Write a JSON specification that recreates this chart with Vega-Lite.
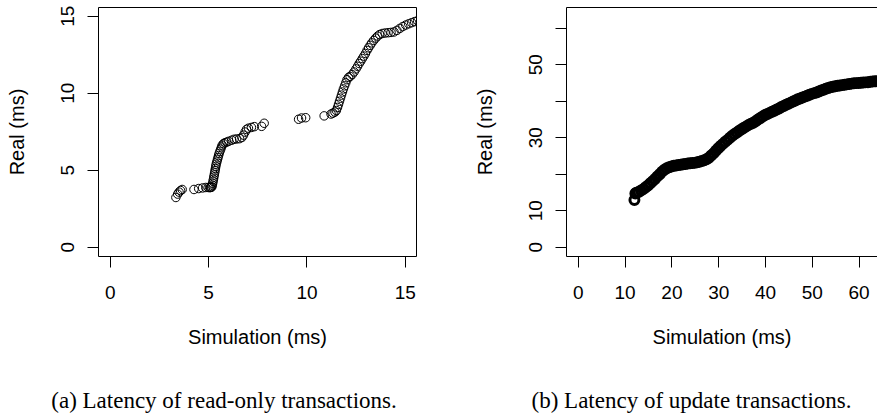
{
  "$schema": "https://vega.github.io/schema/vega-lite/v6.json",
  "padding": {"left": 6, "top": 4, "right": 0, "bottom": 0},
  "autosize": {"type": "pad"},
  "background": "white",
  "spacing": 150,
  "bounds": "flush",
  "config": {
    "font": "Liberation Sans",
    "view": {"stroke": "black", "strokeWidth": 1},
    "axis": {
      "grid": false,
      "domain": false,
      "tickColor": "black",
      "tickSize": 11,
      "tickWidth": 1,
      "labelFont": "Liberation Sans",
      "labelFontSize": 19,
      "labelColor": "black",
      "labelFlush": false,
      "labelOverlap": false,
      "titleFont": "Liberation Sans",
      "titleFontSize": 20,
      "titleFontWeight": "normal",
      "titleColor": "black"
    },
    "title": {
      "font": "Liberation Serif",
      "fontSize": 23,
      "fontWeight": "normal",
      "color": "black"
    }
  },
  "datasets": {
    "ro": [
      {"sim": 3.36, "real": 3.20}, {"sim": 3.45, "real": 3.42}, {"sim": 3.52, "real": 3.55}, {"sim": 3.60, "real": 3.65},
      {"sim": 3.68, "real": 3.72}, {"sim": 4.28, "real": 3.72}, {"sim": 4.52, "real": 3.78}, {"sim": 4.72, "real": 3.82},
      {"sim": 4.88, "real": 3.85}, {"sim": 5.00, "real": 3.85}, {"sim": 5.08, "real": 3.84}, {"sim": 5.12, "real": 3.85},
      {"sim": 5.16, "real": 3.86}, {"sim": 5.19, "real": 3.90}, {"sim": 5.21, "real": 4.00}, {"sim": 5.23, "real": 4.12},
      {"sim": 5.25, "real": 4.25}, {"sim": 5.27, "real": 4.38}, {"sim": 5.29, "real": 4.52}, {"sim": 5.31, "real": 4.66},
      {"sim": 5.33, "real": 4.80}, {"sim": 5.35, "real": 4.94}, {"sim": 5.37, "real": 5.08}, {"sim": 5.39, "real": 5.22},
      {"sim": 5.41, "real": 5.36}, {"sim": 5.44, "real": 5.50}, {"sim": 5.47, "real": 5.64}, {"sim": 5.50, "real": 5.78},
      {"sim": 5.53, "real": 5.92}, {"sim": 5.56, "real": 6.06}, {"sim": 5.60, "real": 6.20}, {"sim": 5.64, "real": 6.34},
      {"sim": 5.68, "real": 6.48}, {"sim": 5.72, "real": 6.60}, {"sim": 5.78, "real": 6.70}, {"sim": 5.86, "real": 6.76},
      {"sim": 5.95, "real": 6.80}, {"sim": 6.05, "real": 6.85}, {"sim": 6.20, "real": 6.92}, {"sim": 6.32, "real": 6.98},
      {"sim": 6.45, "real": 7.00}, {"sim": 6.60, "real": 7.02}, {"sim": 6.72, "real": 7.10}, {"sim": 6.80, "real": 7.25},
      {"sim": 6.88, "real": 7.45}, {"sim": 6.95, "real": 7.62}, {"sim": 7.05, "real": 7.70}, {"sim": 7.20, "real": 7.75},
      {"sim": 7.35, "real": 7.80}, {"sim": 7.72, "real": 7.82}, {"sim": 7.85, "real": 8.02}, {"sim": 9.60, "real": 8.28},
      {"sim": 9.75, "real": 8.36}, {"sim": 9.96, "real": 8.38}, {"sim": 10.90, "real": 8.50}, {"sim": 11.25, "real": 8.62},
      {"sim": 11.35, "real": 8.68}, {"sim": 11.45, "real": 8.75}, {"sim": 11.52, "real": 8.85}, {"sim": 11.58, "real": 9.05},
      {"sim": 11.63, "real": 9.25}, {"sim": 11.68, "real": 9.45}, {"sim": 11.73, "real": 9.65}, {"sim": 11.78, "real": 9.85},
      {"sim": 11.83, "real": 10.05}, {"sim": 11.88, "real": 10.25}, {"sim": 11.94, "real": 10.45}, {"sim": 12.00, "real": 10.65},
      {"sim": 12.06, "real": 10.85}, {"sim": 12.14, "real": 11.00}, {"sim": 12.22, "real": 11.06}, {"sim": 12.32, "real": 11.18},
      {"sim": 12.42, "real": 11.35}, {"sim": 12.52, "real": 11.55}, {"sim": 12.60, "real": 11.72}, {"sim": 12.68, "real": 11.90},
      {"sim": 12.76, "real": 12.05}, {"sim": 12.84, "real": 12.22}, {"sim": 12.92, "real": 12.38}, {"sim": 13.00, "real": 12.55},
      {"sim": 13.08, "real": 12.75}, {"sim": 13.16, "real": 12.92}, {"sim": 13.24, "real": 13.08}, {"sim": 13.32, "real": 13.24},
      {"sim": 13.42, "real": 13.40}, {"sim": 13.52, "real": 13.55}, {"sim": 13.62, "real": 13.68}, {"sim": 13.72, "real": 13.78},
      {"sim": 13.85, "real": 13.85}, {"sim": 14.00, "real": 13.88}, {"sim": 14.15, "real": 13.90}, {"sim": 14.30, "real": 13.92},
      {"sim": 14.45, "real": 13.95}, {"sim": 14.60, "real": 14.05}, {"sim": 14.75, "real": 14.18}, {"sim": 14.90, "real": 14.30},
      {"sim": 15.05, "real": 14.40}, {"sim": 15.20, "real": 14.48}, {"sim": 15.35, "real": 14.55}, {"sim": 15.50, "real": 14.62},
      {"sim": 15.65, "real": 14.68}
    ],
    "up": [
      {"sim": 12.1, "real": 12.8}, {"sim": 12.3, "real": 14.6}, {"sim": 12.5, "real": 14.8}, {"sim": 13.0, "real": 15.0},
      {"sim": 13.5, "real": 15.4}, {"sim": 14.0, "real": 15.8}, {"sim": 14.5, "real": 16.3}, {"sim": 15.0, "real": 16.8},
      {"sim": 15.5, "real": 17.4}, {"sim": 16.0, "real": 18.0}, {"sim": 16.5, "real": 18.6}, {"sim": 17.0, "real": 19.3},
      {"sim": 17.5, "real": 19.9}, {"sim": 18.0, "real": 20.6}, {"sim": 18.5, "real": 21.1}, {"sim": 19.0, "real": 21.5},
      {"sim": 19.5, "real": 21.8}, {"sim": 20.0, "real": 22.0}, {"sim": 20.5, "real": 22.2}, {"sim": 21.0, "real": 22.3},
      {"sim": 21.5, "real": 22.4}, {"sim": 22.0, "real": 22.5}, {"sim": 22.5, "real": 22.6}, {"sim": 23.0, "real": 22.7},
      {"sim": 23.5, "real": 22.8}, {"sim": 24.0, "real": 22.9}, {"sim": 24.5, "real": 22.95}, {"sim": 25.0, "real": 23.0},
      {"sim": 25.5, "real": 23.15}, {"sim": 26.0, "real": 23.3}, {"sim": 26.5, "real": 23.5}, {"sim": 27.0, "real": 23.7},
      {"sim": 27.5, "real": 24.0}, {"sim": 28.0, "real": 24.4}, {"sim": 28.5, "real": 25.0}, {"sim": 29.0, "real": 25.6},
      {"sim": 29.5, "real": 26.3}, {"sim": 30.0, "real": 27.0}, {"sim": 30.5, "real": 27.6}, {"sim": 31.0, "real": 28.2},
      {"sim": 31.5, "real": 28.8}, {"sim": 32.0, "real": 29.3}, {"sim": 32.5, "real": 29.9}, {"sim": 33.0, "real": 30.4},
      {"sim": 33.5, "real": 30.9}, {"sim": 34.0, "real": 31.3}, {"sim": 34.5, "real": 31.8}, {"sim": 35.0, "real": 32.2},
      {"sim": 35.5, "real": 32.6}, {"sim": 36.0, "real": 33.0}, {"sim": 36.5, "real": 33.4}, {"sim": 37.0, "real": 33.7},
      {"sim": 37.5, "real": 34.0}, {"sim": 38.0, "real": 34.4}, {"sim": 38.5, "real": 34.9}, {"sim": 39.0, "real": 35.3},
      {"sim": 39.5, "real": 35.7}, {"sim": 40.0, "real": 36.1}, {"sim": 40.5, "real": 36.4}, {"sim": 41.0, "real": 36.7},
      {"sim": 41.5, "real": 37.0}, {"sim": 42.0, "real": 37.3}, {"sim": 42.5, "real": 37.6}, {"sim": 43.0, "real": 37.9},
      {"sim": 43.5, "real": 38.3}, {"sim": 44.0, "real": 38.6}, {"sim": 44.5, "real": 38.9}, {"sim": 45.0, "real": 39.2},
      {"sim": 45.5, "real": 39.5}, {"sim": 46.0, "real": 39.8}, {"sim": 46.5, "real": 40.1}, {"sim": 47.0, "real": 40.4},
      {"sim": 47.5, "real": 40.65}, {"sim": 48.0, "real": 40.9}, {"sim": 48.5, "real": 41.15}, {"sim": 49.0, "real": 41.4},
      {"sim": 49.5, "real": 41.65}, {"sim": 50.0, "real": 41.9}, {"sim": 50.5, "real": 42.1}, {"sim": 51.0, "real": 42.3},
      {"sim": 51.5, "real": 42.55}, {"sim": 52.0, "real": 42.8}, {"sim": 52.5, "real": 43.05}, {"sim": 53.0, "real": 43.3},
      {"sim": 53.5, "real": 43.5}, {"sim": 54.0, "real": 43.7}, {"sim": 54.5, "real": 43.85}, {"sim": 55.0, "real": 44.0},
      {"sim": 55.5, "real": 44.1}, {"sim": 56.0, "real": 44.2}, {"sim": 56.5, "real": 44.3}, {"sim": 57.0, "real": 44.4},
      {"sim": 57.5, "real": 44.5}, {"sim": 58.0, "real": 44.6}, {"sim": 58.5, "real": 44.7}, {"sim": 59.0, "real": 44.8},
      {"sim": 59.5, "real": 44.85}, {"sim": 60.0, "real": 44.9}, {"sim": 60.5, "real": 44.95}, {"sim": 61.0, "real": 45.0},
      {"sim": 61.5, "real": 45.05}, {"sim": 62.0, "real": 45.1}, {"sim": 62.5, "real": 45.2}, {"sim": 63.0, "real": 45.3},
      {"sim": 63.5, "real": 45.35}, {"sim": 64.0, "real": 45.4}
    ]
  },
  "hconcat": [
    {
      "width": 318,
      "height": 249,
      "data": {"name": "ro"},
      "mark": {"type": "point", "shape": "circle", "filled": false, "color": "black", "size": 72, "strokeWidth": 1, "opacity": 1, "clip": true},
      "encoding": {
        "x": {
          "field": "sim", "type": "quantitative",
          "scale": {"domain": [-0.6, 15.57], "nice": false, "zero": false},
          "axis": {"values": [0, 5, 10, 15], "labelPadding": 16, "labelBaseline": "top", "labelAlign": "center", "title": "Simulation (ms)", "titleY": 87, "titleBaseline": "alphabetic"}
        },
        "y": {
          "field": "real", "type": "quantitative",
          "scale": {"domain": [-0.6, 15.57], "nice": false, "zero": false},
          "axis": {"values": [0, 5, 10, 15], "labelAngle": 270, "labelAlign": "center", "labelBaseline": "alphabetic", "labelPadding": 14, "title": "Real (ms)", "titleX": -75, "titleY": 124.5, "titleAngle": 270, "titleAlign": "center", "titleBaseline": "alphabetic"}
        }
      },
      "title": {"text": "(a) Latency of read-only transactions.", "orient": "bottom", "frame": "group", "anchor": "middle", "dx": -33, "offset": 43}
    },
    {
      "width": 311,
      "height": 249,
      "view": {"stroke": null},
      "data": {"name": "up"},
      "layer": [
        {
          "mark": {"type": "point", "shape": "circle", "filled": false, "color": "black", "size": 80, "strokeWidth": 3, "opacity": 1, "clip": true},
          "encoding": {
            "x": {
              "field": "sim", "type": "quantitative",
              "scale": {"domain": [-2.52, 63.93], "nice": false, "zero": false},
              "axis": {"values": [0, 10, 20, 30, 40, 50, 60], "domain": true, "domainColor": "black", "labelPadding": 16, "labelBaseline": "top", "labelAlign": "center", "title": "Simulation (ms)", "titleX": 155.5, "titleY": 87, "titleBaseline": "alphabetic"}
            },
            "y": {
              "field": "real", "type": "quantitative",
              "scale": {"domain": [-2.52, 65.7], "nice": false, "zero": false},
              "axis": {"values": [0, 10, 20, 30, 40, 50, 60], "labelExpr": "datum.value == 20 || datum.value == 40 || datum.value == 60 ? '' : datum.label", "domain": true, "domainColor": "black", "labelAngle": 270, "labelAlign": "center", "labelBaseline": "alphabetic", "labelPadding": 14, "title": "Real (ms)", "titleX": -75, "titleY": 124.5, "titleAngle": 270, "titleAlign": "center", "titleBaseline": "alphabetic"}
            }
          }
        },
        {
          "mark": {"type": "point", "opacity": 0, "clip": true},
          "encoding": {
            "x": {
              "field": "sim", "type": "quantitative",
              "axis": {"orient": "top", "domain": true, "domainColor": "black", "ticks": false, "labels": false, "title": null}
            },
            "y": {"field": "real", "type": "quantitative"}
          }
        }
      ],
      "resolve": {"axis": {"x": "independent"}},
      "title": {"text": "(b) Latency of update transactions.", "orient": "bottom", "frame": "group", "anchor": "middle", "dx": -30, "offset": 43}
    }
  ]
}
